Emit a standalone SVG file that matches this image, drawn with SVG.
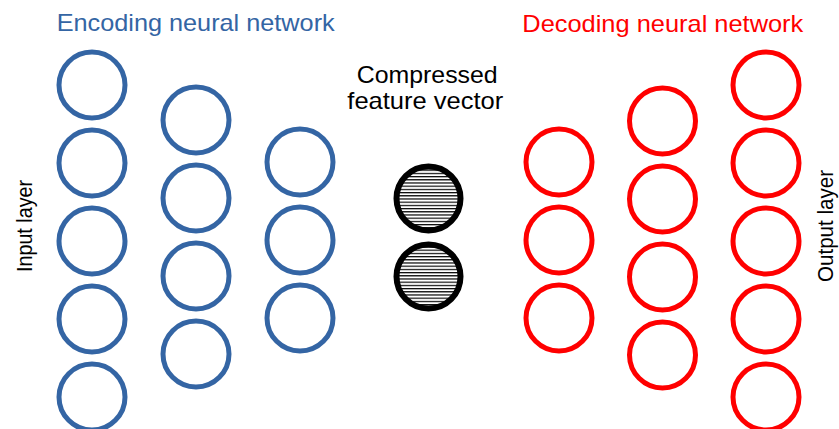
<svg xmlns="http://www.w3.org/2000/svg" width="839" height="429" viewBox="0 0 839 429">
<style>
.enc{fill:none;stroke:#3465a4;stroke-width:5}
.dec{fill:none;stroke:#ff0000;stroke-width:5}
.cmp{fill:url(#hatch);stroke:#000;stroke-width:6}
text{font-family:"Liberation Sans",Arial,sans-serif}
.t24{font-size:24px}
.t22{font-size:22px;fill:#000}
</style>
<defs>
<pattern id="hatch" patternUnits="userSpaceOnUse" width="10" height="3.2">
<rect width="10" height="3.2" fill="#fff"/>
<rect width="10" height="1.2" fill="#000"/>
</pattern>
</defs>
<g id="labels">
<text class="t24" x="56.7" y="31" fill="#3465a4" textLength="278" lengthAdjust="spacingAndGlyphs">Encoding neural network</text>
<text class="t24" x="522.3" y="31.5" fill="#ff0000" textLength="281" lengthAdjust="spacingAndGlyphs">Decoding neural network</text>
<text class="t24" x="356.7" y="83" fill="#000" textLength="141" lengthAdjust="spacingAndGlyphs">Compressed</text>
<text class="t24" x="347.3" y="108.5" fill="#000" textLength="156" lengthAdjust="spacingAndGlyphs">feature vector</text>
<text class="t22" transform="translate(32,226) rotate(-90)" text-anchor="middle" textLength="92" lengthAdjust="spacingAndGlyphs">Input layer</text>
<text class="t22" transform="translate(832.5,226) rotate(-90)" text-anchor="middle" textLength="112" lengthAdjust="spacingAndGlyphs">Output layer</text>
</g>
<g id="input-layer">
<circle class="enc" cx="92" cy="85" r="33"/>
<circle class="enc" cx="92" cy="163" r="33"/>
<circle class="enc" cx="92" cy="241" r="33"/>
<circle class="enc" cx="92" cy="319" r="33"/>
<circle class="enc" cx="92" cy="397" r="33"/>
</g>
<g id="encoder-hidden-1">
<circle class="enc" cx="196" cy="120" r="33"/>
<circle class="enc" cx="196" cy="198" r="33"/>
<circle class="enc" cx="196" cy="276" r="33"/>
<circle class="enc" cx="196" cy="354" r="33"/>
</g>
<g id="encoder-hidden-2">
<circle class="enc" cx="300" cy="162" r="33"/>
<circle class="enc" cx="300" cy="240" r="33"/>
<circle class="enc" cx="300" cy="318" r="33"/>
</g>
<g id="compressed-vector">
<circle class="cmp" cx="428.5" cy="198.5" r="32"/>
<circle class="cmp" cx="428.5" cy="276.5" r="32"/>
</g>
<g id="decoder-hidden-1">
<circle class="dec" cx="559" cy="162" r="33"/>
<circle class="dec" cx="559" cy="240" r="33"/>
<circle class="dec" cx="559" cy="318" r="33"/>
</g>
<g id="decoder-hidden-2">
<circle class="dec" cx="662.5" cy="121" r="33"/>
<circle class="dec" cx="662.5" cy="199" r="33"/>
<circle class="dec" cx="662.5" cy="277" r="33"/>
<circle class="dec" cx="662.5" cy="355" r="33"/>
</g>
<g id="output-layer">
<circle class="dec" cx="766" cy="85" r="33"/>
<circle class="dec" cx="766" cy="163" r="33"/>
<circle class="dec" cx="766" cy="241" r="33"/>
<circle class="dec" cx="766" cy="319" r="33"/>
<circle class="dec" cx="766" cy="397" r="33"/>
</g>
<g id="connectors"></g>
</svg>
